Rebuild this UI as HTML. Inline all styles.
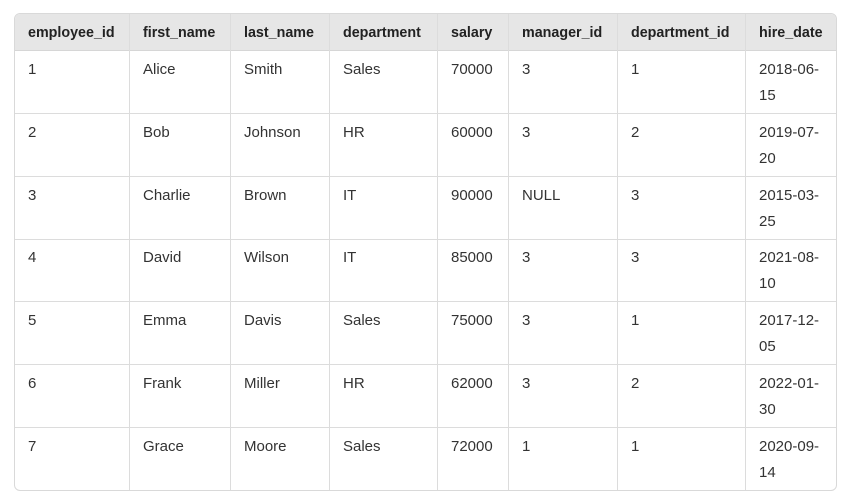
<!DOCTYPE html>
<html><head><style>
body{margin:0;background:#fff;width:846px;height:499px;overflow:hidden;font-family:"Liberation Sans",Arial,sans-serif;}
.t{position:absolute;left:14px;top:13px;width:823px;height:478px;border:1px solid #d9d9d9;border-radius:6px;overflow:hidden;box-sizing:border-box;}
.h{position:absolute;left:0;top:0;width:100%;height:36px;background:#e6e6e6;border-bottom:1px solid #d6d6d6;}
.c{position:absolute;font-size:15px;color:#333;line-height:26px;padding-left:13px;box-sizing:border-box;white-space:nowrap;}
.hc{font-weight:bold;color:#222;top:6px;font-size:14.3px;}
.v{position:absolute;top:0;bottom:0;width:1px;background:#dcdcdc;}
.r{position:absolute;left:0;width:100%;height:1px;background:#dcdcdc;}
</style></head><body>
<div class="t">
<div class="h"></div>
<div class="v" style="left:114px"></div><div class="v" style="left:215px"></div><div class="v" style="left:314px"></div><div class="v" style="left:422px"></div><div class="v" style="left:493px"></div><div class="v" style="left:602px"></div><div class="v" style="left:730px"></div>
<div class="r" style="top:99px"></div><div class="r" style="top:162px"></div><div class="r" style="top:225px"></div><div class="r" style="top:287px"></div><div class="r" style="top:350px"></div><div class="r" style="top:413px"></div>
<div id="g"></div>
</div>
<script>
var L=[0,115,216,315,423,494,603,731],W=[115,101,99,108,71,109,128,91];
var H=["employee_id","first_name","last_name","department","salary","manager_id","department_id","hire_date"];
var D=[["1","Alice","Smith","Sales","70000","3","1","2018-06-15"],["2","Bob","Johnson","HR","60000","3","2","2019-07-20"],["3","Charlie","Brown","IT","90000","NULL","3","2015-03-25"],["4","David","Wilson","IT","85000","3","3","2021-08-10"],["5","Emma","Davis","Sales","75000","3","1","2017-12-05"],["6","Frank","Miller","HR","62000","3","2","2022-01-30"],["7","Grace","Moore","Sales","72000","1","1","2020-09-14"]];
var T=[43,106,169,231,294,357,420],s="";
H.forEach(function(h,i){s+='<div class="c hc" style="left:'+L[i]+'px;width:'+W[i]+'px">'+h+'</div>';});
D.forEach(function(r,j){r.forEach(function(v,i){if(i==7){var p=v.split("-");v=p[0]+"-"+p[1]+"-<br>"+p[2];}s+='<div class="c" style="left:'+L[i]+'px;top:'+T[j]+'px;width:'+W[i]+'px">'+v+'</div>';});});
document.getElementById("g").innerHTML=s;
</script>
</body></html>
